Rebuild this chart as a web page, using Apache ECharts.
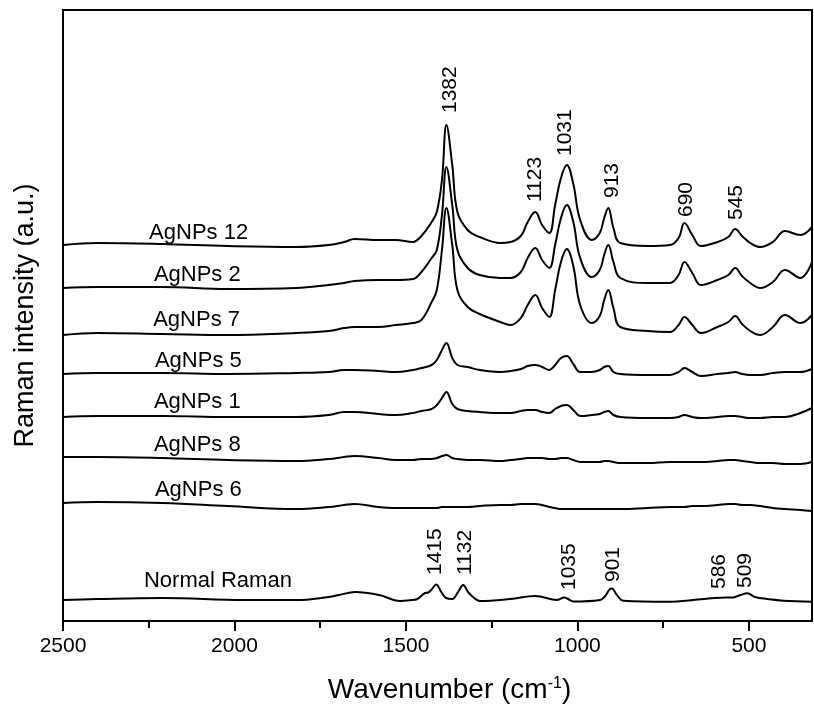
<!DOCTYPE html>
<html>
<head>
<meta charset="utf-8">
<title>Raman spectra</title>
<script src="https://cdn.jsdelivr.net/npm/echarts@6/dist/echarts.min.js"></script>
<style>
html, body { margin: 0; padding: 0; background: #fff; }
#chart { width: 814px; height: 717px; }
</style>
</head>
<body>
<div id="chart"></div>
<script>
// wavenumber grid shared by the AgNPs spectra (cm-1)
var wavenumbers = [2500, 2400, 2210, 2020, 1820, 1725, 1680, 1650, 1580, 1530, 1480, 1455, 1425, 1410, 1395, 1382, 1365, 1350, 1320, 1285,
	1225, 1195, 1165, 1145, 1123, 1103, 1082, 1065, 1048, 1031, 1012, 992, 958, 935, 922, 910, 895, 875, 795, 730,
	705, 688, 665, 640, 592, 560, 540, 520, 496, 467, 430, 395, 350, 316];

// offset intensities (a.u.)
var agnps12 = [376, 378, 377, 375, 374, 376, 379, 382, 381, 381, 379, 385, 399, 409, 441, 496, 456, 409, 391, 384,
	378, 379, 385, 399, 409, 396, 388, 416, 443, 456, 437, 401, 381, 388, 403, 413, 393, 378, 375, 376,
	383, 398, 386, 375, 379, 384, 392, 385, 378, 374, 379, 390, 386, 394];
var agnps2 = [333, 334, 334, 332, 333, 336, 338, 340, 341, 341, 342, 349, 363, 371, 406, 454, 416, 371, 353, 346,
	343, 343, 349, 363, 373, 361, 353, 376, 403, 416, 399, 363, 344, 351, 366, 376, 359, 343, 338, 338,
	346, 359, 348, 336, 341, 346, 353, 345, 338, 333, 339, 351, 343, 359];
var agnps7 = [286, 288, 287, 286, 288, 290, 293, 294, 294, 296, 298, 301, 319, 331, 371, 413, 376, 331, 314, 307,
	299, 296, 303, 316, 326, 313, 304, 331, 359, 372, 355, 316, 298, 305, 321, 331, 313, 294, 290, 289,
	296, 304, 296, 288, 294, 299, 305, 297, 290, 286, 294, 306, 298, 306];
var agnps5 = [247, 248, 248, 247, 248, 249, 251, 251, 250, 249, 251, 253, 256, 261, 271, 278, 263, 256, 254, 251,
	249, 250, 252, 255, 256, 254, 251, 256, 263, 265, 257, 249, 249, 251, 254, 255, 249, 247, 246, 246,
	249, 253, 249, 245, 247, 248, 249, 247, 246, 246, 248, 249, 249, 252];
var agnps1 = [204, 205, 205, 204, 204, 206, 209, 209, 207, 206, 208, 210, 212, 216, 223, 229, 217, 212, 210, 209,
	208, 208, 210, 211, 211, 209, 208, 212, 215, 216, 211, 205, 206, 207, 209, 210, 206, 204, 203, 203,
	204, 206, 204, 203, 204, 205, 205, 204, 203, 203, 204, 204, 208, 213];
var agnps8 = [164, 164, 163, 161, 160, 162, 164, 165, 163, 161, 161, 162, 162, 163, 165, 166, 163, 162, 161, 161,
	160, 161, 162, 163, 163, 163, 162, 162, 163, 163, 161, 159, 159, 159, 160, 160, 159, 158, 158, 159,
	159, 159, 159, 159, 160, 161, 161, 160, 159, 158, 158, 157, 157, 159];
var agnps6 = [118, 119, 118, 115, 112, 114, 116, 117, 114, 113, 113, 113, 113, 113, 114, 114, 114, 114, 114, 115,
	116, 116, 117, 117, 117, 116, 114, 113, 112, 112, 112, 112, 112, 112, 112, 112, 112, 112, 113, 114,
	114, 114, 115, 115, 116, 117, 117, 116, 116, 115, 113, 112, 111, 110];

// normal Raman spectrum has its own grid
var ramanWavenumbers = [2500, 2400, 2210, 1970, 1820, 1725, 1695, 1648, 1578, 1517, 1482, 1467, 1444, 1435, 1424, 1412,
	1397, 1383, 1365, 1348, 1333, 1319, 1301, 1284, 1196, 1123, 1059, 1038, 1027, 1012, 934, 919,
	905, 899, 887, 866, 738, 641, 583, 546, 525, 505, 482, 446, 400, 316];
var normalRaman = [21, 22, 23, 21, 21, 24, 26, 29, 26, 20, 21, 22, 28, 28.5, 32, 36.5,
	29, 23, 22, 29, 36, 29, 23, 20, 22, 25, 21, 23.5, 22, 19.5, 21, 25,
	32, 32.5, 27, 20.3, 19.3, 21.7, 23.3, 23.5, 26, 27.7, 24, 22, 20.3, 19.3];

var majorTicks = [2500, 2000, 1500, 1000, 500];
var minorTicks = [2250, 1750, 1250, 750];

var font = 'Arial, "Liberation Sans", sans-serif';

function pairs(xs, ys) {
	var out = [];
	for (var i = 0; i < xs.length; i++) {
		out.push([xs[i], ys[i]]);
	}
	return out;
}

var spectra = [
	{name: 'AgNPs 12', x: wavenumbers, y: agnps12, at: [2249, 388]},
	{name: 'AgNPs 2', x: wavenumbers, y: agnps2, at: [2235, 346]},
	{name: 'AgNPs 7', x: wavenumbers, y: agnps7, at: [2237, 301]},
	{name: 'AgNPs 5', x: wavenumbers, y: agnps5, at: [2232, 260]},
	{name: 'AgNPs 1', x: wavenumbers, y: agnps1, at: [2235, 219]},
	{name: 'AgNPs 8', x: wavenumbers, y: agnps8, at: [2235, 176]},
	{name: 'AgNPs 6', x: wavenumbers, y: agnps6, at: [2232, 131]},
	{name: 'Normal Raman', x: ramanWavenumbers, y: normalRaman, at: [2264, 40]}
];

// peak annotations (text starts at the anchor and runs upward)
var peakLabels = [
	{text: '1382', at: [1371, 508]},
	{text: '1123', at: [1123, 419]},
	{text: '1031', at: [1036, 465]},
	{text: '913', at: [898, 423]},
	{text: '690', at: [683, 404]},
	{text: '545', at: [537, 401]},
	{text: '1415', at: [1415, 46]},
	{text: '1132', at: [1327, 46]},
	{text: '1035', at: [1024, 31]},
	{text: '901', at: [896, 39]},
	{text: '586', at: [586, 32]},
	{text: '509', at: [510, 33]}
];

var series = [];
for (var i = 0; i < spectra.length; i++) {
	series.push({
		name: spectra[i].name,
		type: 'line',
		xAxisIndex: 0,
		yAxisIndex: 0,
		data: pairs(spectra[i].x, spectra[i].y),
		showSymbol: false,
		symbol: 'none',
		smooth: 0.4,
		silent: true,
		lineStyle: {color: '#000', width: 2}
	});
}

var chart = echarts.init(document.getElementById('chart'));
var option = {
	animation: false,
	backgroundColor: '#fff',
	textStyle: {fontFamily: font, color: '#000'},
	grid: {left: 63, right: 2, top: 10, bottom: 96, show: true, borderColor: '#000', borderWidth: 2},
	xAxis: [
		{
			type: 'value',
			inverse: true,
			min: 316,
			max: 2500,
			position: 'bottom',
			name: 'Wavenumber (cm{sup|-1})',
			nameLocation: 'middle',
			nameGap: 55,
			nameTextStyle: {
				fontSize: 28, fontFamily: font, color: '#000', padding: [0, 0, 0, 24],
				rich: {sup: {fontSize: 16, fontFamily: font, color: '#000', verticalAlign: 'top', lineHeight: 14}}
			},
			axisLine: {show: true, lineStyle: {color: '#000', width: 2}},
			axisTick: {show: true, inside: false, length: 10, lineStyle: {color: '#000', width: 2}, customValues: majorTicks},
			axisLabel: {
				show: true, customValues: majorTicks, fontSize: 21, fontFamily: font, color: '#000', margin: 15,
				formatter: function(v) { return String(v); }
			},
			splitLine: {show: false}
		},
		{
			type: 'value',
			inverse: true,
			min: 316,
			max: 2500,
			position: 'bottom',
			axisLine: {show: false},
			axisTick: {show: true, inside: false, length: 7, lineStyle: {color: '#000', width: 2}, customValues: minorTicks},
			axisLabel: {show: false, customValues: minorTicks},
			splitLine: {show: false}
		}
	],
	yAxis: {
		type: 'value',
		min: 0,
		max: 611,
		name: 'Raman intensity (a.u.)',
		nameLocation: 'middle',
		nameRotate: 90,
		nameGap: 24,
		nameTextStyle: {fontSize: 27, fontFamily: font, color: '#000'},
		axisLine: {show: false},
		axisTick: {show: false},
		axisLabel: {show: false},
		splitLine: {show: false}
	},
	series: series
};
chart.setOption(option);

// place the text annotations from data coordinates
var graphics = [];
for (var i = 0; i < spectra.length; i++) {
	var p = chart.convertToPixel({xAxisIndex: 0, yAxisIndex: 0}, spectra[i].at);
	graphics.push({
		type: 'text', x: p[0], y: p[1], silent: true,
		style: {text: spectra[i].name, fontSize: 22, fontFamily: font, fill: '#000', align: 'left', verticalAlign: 'middle'}
	});
}
for (var j = 0; j < peakLabels.length; j++) {
	var q = chart.convertToPixel({xAxisIndex: 0, yAxisIndex: 0}, peakLabels[j].at);
	graphics.push({
		type: 'text', x: q[0], y: q[1], rotation: Math.PI / 2, silent: true,
		style: {text: peakLabels[j].text, fontSize: 21, fontFamily: font, fill: '#000', align: 'left', verticalAlign: 'middle'}
	});
}
chart.setOption({graphic: graphics});
</script>
</body>
</html>
